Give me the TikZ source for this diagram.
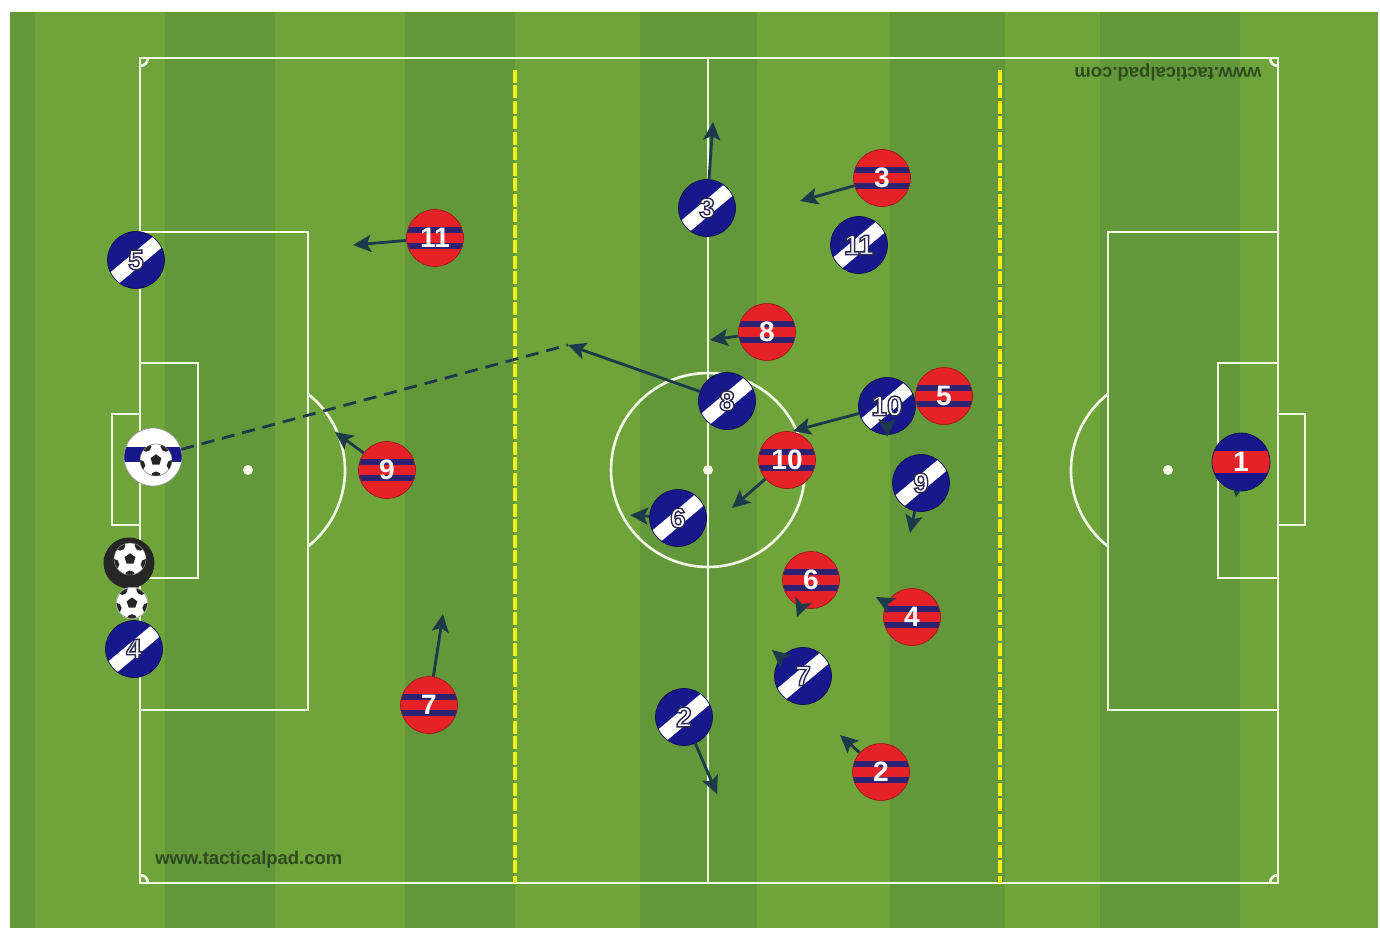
\documentclass[tikz,border=0pt]{standalone}
\usepackage{fontspec}
\setmainfont{Liberation Sans}
\usetikzlibrary{arrows.meta}
\definecolor{grassA}{HTML}{6FA43B}
\definecolor{grassB}{HTML}{62983A}
\definecolor{navy}{HTML}{17188C}
\definecolor{pred}{HTML}{E62229}
\definecolor{stripec}{HTML}{2B2272}
\definecolor{runc}{HTML}{1E3A4A}
\definecolor{lineW}{HTML}{F2F7E6}
\definecolor{markc}{HTML}{2F4A1E}
\definecolor{yell}{HTML}{F4F01A}
\newcommand\outlinenum[1]{\special{pdf:literal direct 2 Tr 0.8 w 0.16 0.16 0.32 RG}#1\special{pdf:literal direct 0 Tr}}
\newcommand\sball[2]{%
  \begin{scope}[shift={#1},scale=#2]
    \fill[white] (0,0) circle[radius=1cm];
    \begin{scope}
      \clip (0,0) circle[radius=1cm];
      \fill[black!85] (90:0.36cm) -- (162:0.36cm) -- (234:0.36cm) -- (306:0.36cm) -- (18:0.36cm) -- cycle;
      \foreach \a in {54,126,198,270,342}{\fill[black!85] (\a:1.05cm) circle[radius=0.33cm];}
    \end{scope}
    \draw[black!50, line width=0.3pt] (0,0) circle[radius=1cm];
  \end{scope}}
% blue player: name, position, number
\newcommand\bplayer[3]{%
  \begin{scope}[shift={#2}]
    \fill[navy] (0,0) circle[radius=0.57cm];
    \begin{scope}
      \clip (0,0) circle[radius=0.57cm];
      \fill[white, rotate=40] (-1cm,-0.14cm) rectangle (1cm,0.14cm);
    \end{scope}
  \end{scope}
  \node[pl, draw=navy!60!black] (#1) at #2 {\outlinenum{#3}};}
% red player
\newcommand\rplayer[3]{%
  \begin{scope}[shift={#2}]
    \fill[pred] (0,0) circle[radius=0.57cm];
    \begin{scope}
      \clip (0,0) circle[radius=0.57cm];
      \fill[stripec] (-1cm,0.1cm) rectangle (1cm,0.22cm);
      \fill[stripec] (-1cm,-0.1cm) rectangle (1cm,-0.22cm);
    \end{scope}
  \end{scope}
  \node[pl, draw=pred!70!black] (#1) at #2 {#3};}
% red goalkeeper
\newcommand\gplayer[3]{%
  \begin{scope}[shift={#2}]
    \fill[navy] (0,0) circle[radius=0.58cm];
    \begin{scope}
      \clip (0,0) circle[radius=0.58cm];
      \fill[pred] (-1cm,-0.22cm) rectangle (1cm,0.22cm);
    \end{scope}
  \end{scope}
  \node[pl, minimum size=1.16cm, draw=navy!60!black] (#1) at #2 {#3};}
\tikzset{
  pline/.style={draw=lineW, line width=1.5pt},
  yline/.style={draw=yell, line width=1.8pt, dash pattern=on 0.26cm off 0.05cm},
  pl/.style={circle, inner sep=0pt, minimum size=1.14cm, line width=0.4pt,
    text=white, font=\fontsize{16}{16}\selectfont\bfseries},
  run/.style={draw=runc, line width=1.6pt, -{Stealth[length=0.36cm, width=0.34cm, inset=0.08cm]}},
  pass/.style={draw=runc, line width=1.6pt, dash pattern=on 0.26cm off 0.16cm},
  wmark/.style={font=\fontsize{10.5}{10.5}\selectfont\bfseries, text=markc, inner sep=0pt}
}
\begin{document}
\begin{tikzpicture}[x=0.02cm, y=-0.02cm]
\useasboundingbox (0,0) rectangle (1380,930);
\fill[white] (0,0) rectangle (1380,930);
% grass stripes
\fill[grassA] (10,12) rectangle (1378,928);
\foreach \a/\b in {10/35, 165/275, 405/515, 640/757, 890/1005, 1100/1240}{
  \fill[grassB] (\a,12) rectangle (\b,928);
}
% pitch markings
\draw[pline] (140,58) rectangle (1278,883);
\draw[pline] (708,58) -- (708,883);
\draw[pline] (708,470) circle[radius=1.94cm];
\fill[lineW] (708,470) circle[radius=0.1cm];
% left end
\draw[pline] (140,232) rectangle (308,710);
\draw[pline] (140,363) rectangle (198,578);
\draw[pline] (140,414) -- (112,414) -- (112,525) -- (140,525);
\fill[lineW] (248,470) circle[radius=0.1cm];
\draw[pline] (308,394) arc[start angle=51.8, end angle=-51.8, radius=1.94cm];
% right end
\draw[pline] (1278,232) rectangle (1108,710);
\draw[pline] (1278,363) rectangle (1218,578);
\draw[pline] (1278,414) -- (1305,414) -- (1305,525) -- (1278,525);
\fill[lineW] (1168,470) circle[radius=0.1cm];
\draw[pline] (1108,394) arc[start angle=128.2, end angle=231.8, radius=1.94cm];
% corner arcs
\draw[pline] (148,58) arc[start angle=0, end angle=-90, radius=0.16cm];
\draw[pline] (1270,58) arc[start angle=180, end angle=270, radius=0.16cm];
\draw[pline] (148,883) arc[start angle=0, end angle=90, radius=0.16cm];
\draw[pline] (1270,883) arc[start angle=180, end angle=90, radius=0.16cm];
% zone lines
\draw[yline] (515,70) -- (515,883);
\draw[yline] (1000,70) -- (1000,883);
% watermarks
\node[wmark, anchor=west] (wm1) at (155,860) {www.tacticalpad.com};
\node[wmark, rotate=180] (wm2) at (1168,72) {www.tacticalpad.com};

% arrow targets
\coordinate (passend) at (568,345);
\coordinate (tb3) at (713,122);
\coordinate (tr3) at (800,201);
\coordinate (tr11) at (353,245);
\coordinate (tr8) at (710,340);
\coordinate (tr9) at (335,432);
\coordinate (tr7) at (443,614);
\coordinate (tr10) at (732,508);
\coordinate (tb10) at (793,431);
\coordinate (tb10b) at (887,437);
\coordinate (tb9) at (910,533);
\coordinate (tb6) at (630,515);
\coordinate (tr6) at (797,617);
\coordinate (tr4) at (876,597);
\coordinate (tb7) at (772,650);
\coordinate (tb2) at (717,794);
\coordinate (tr2) at (840,735);
\coordinate (tr1) at (1236,497);

% balls and ball carrier
\begin{scope}[shift={(153,457)}]
  \fill[white] (0,0) circle[radius=0.58cm];
  \begin{scope}
    \clip (0,0) circle[radius=0.58cm];
    \fill[navy] (-1cm,-0.1cm) rectangle (1cm,0.2cm);
  \end{scope}
\end{scope}
\node[circle, inner sep=0pt, minimum size=1.16cm, draw=black!40, line width=0.4pt] (gk) at (153,457) {};
\sball{(156,460)}{0.32}
\node[circle, inner sep=0pt, minimum size=1.02cm, fill=black!85] (bb) at (129,563) {};
\sball{(130,559)}{0.32}
\node[circle, inner sep=0pt, minimum size=0.64cm, fill=white] (sb) at (132,603) {};
\sball{(132,603)}{0.31}

% blue team
\bplayer{b5}{(136,260)}{5}
\bplayer{b4}{(134,649)}{4}
\bplayer{b3}{(707,208)}{3}
\bplayer{b11}{(859,245)}{11}
\bplayer{b8}{(727,401)}{8}
\bplayer{b10}{(887,406)}{10}
\bplayer{b9}{(921,483)}{9}
\bplayer{b6}{(678,518)}{6}
\bplayer{b7}{(803,676)}{7}
\bplayer{b2}{(684,717)}{2}

% red team
\rplayer{r11}{(435,238)}{11}
\rplayer{r9}{(387,470)}{9}
\rplayer{r7}{(429,705)}{7}
\rplayer{r3}{(882,178)}{3}
\rplayer{r8}{(767,332)}{8}
\rplayer{r5}{(944,396)}{5}
\rplayer{r10}{(787,460)}{10}
\rplayer{r6}{(811,580)}{6}
\rplayer{r4}{(912,617)}{4}
\rplayer{r2}{(881,772)}{2}
\gplayer{r1}{(1241,462)}{1}

% pass and runs
\draw[pass] (gk) -- (passend);
\draw[run] (b8) -- (passend);
\draw[run] (b3) -- (tb3);
\draw[run] (r3) -- (tr3);
\draw[run] (r11) -- (tr11);
\draw[run] (r8) -- (tr8);
\draw[run] (r9) -- (tr9);
\draw[run] (r7) -- (tr7);
\draw[run] (r10) -- (tr10);
\draw[run] (b10) -- (tb10);
\draw[run] (b10) -- (tb10b);
\draw[run] (b9) -- (tb9);
\draw[run] (b6) -- (tb6);
\draw[run] (r6) -- (tr6);
\draw[run] (r4) -- (tr4);
\draw[run] (b7) -- (tb7);
\draw[run] (b2) -- (tb2);
\draw[run] (r2) -- (tr2);
\draw[run, -{Stealth[length=0.16cm, width=0.16cm]}] (r1) -- (tr1);
\end{tikzpicture}
\end{document}
